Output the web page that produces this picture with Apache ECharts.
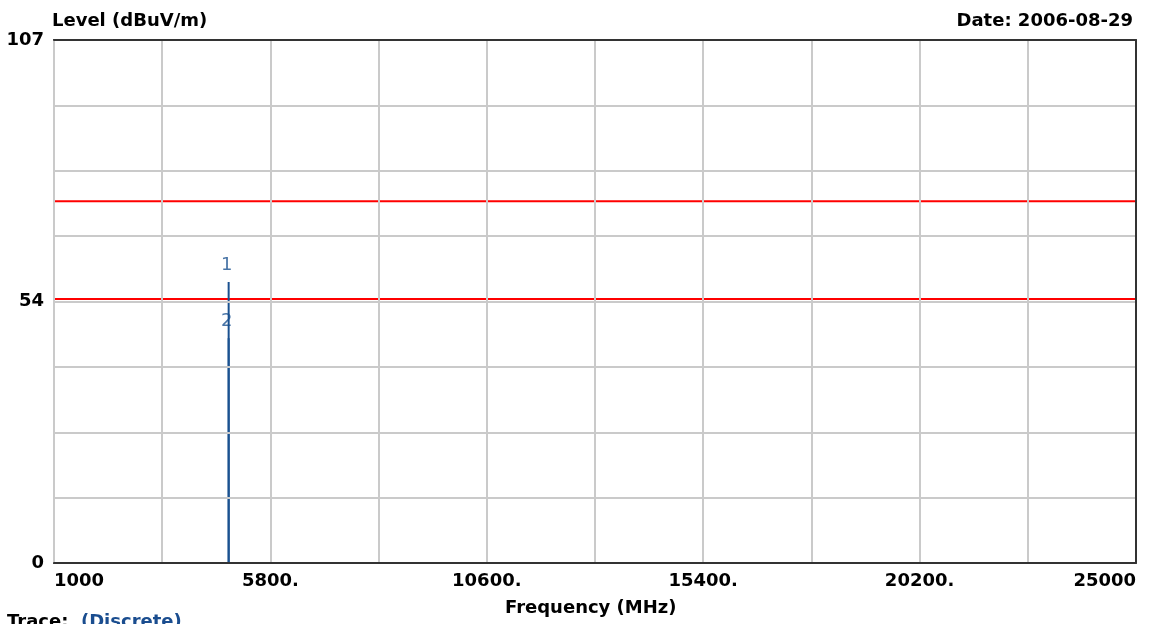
<!DOCTYPE html>
<html>
<head>
<meta charset="utf-8">
<script src="https://cdn.jsdelivr.net/npm/echarts@6/dist/echarts.min.js"></script>
<style>
  html, body { margin: 0; padding: 0; background: #fff; }
  #chart { width: 1159px; height: 624px; }
</style>
</head>
<body>
<div id="chart"></div>
<script>
// frequency axis (MHz) and level axis (dBuV/m)
const freqMin = 1000;
const freqMax = 25000;
const freqStep = 2400;
const levelMin = 0;
const levelMax = 107;
const levelStep = 13.375;
const levelTickLabels = { 0: '0', 53.5: '54', 107: '107' };

// limit lines (dBuV/m)
const limitLevels = [74, 54];

// discrete trace markers
const markerIds = ['1', '2'];
const markerFreqs = [4874, 4874];
const markerLevels = [57.5, 46];

const FONT = 'DejaVu Sans';
const mychart = echarts.init(document.getElementById('chart'));

const limitSeries = limitLevels.map(function (lv) {
  return {
    type: 'line',
    data: [[freqMin, lv], [freqMax, lv]],
    symbol: 'none',
    silent: true,
    lineStyle: { color: '#ff0000', width: 2 },
    z: 3
  };
});

const markerSeries = markerFreqs.map(function (f, i) {
  return {
    type: 'line',
    data: [[f, 0], [f, markerLevels[i]]],
    symbol: 'none',
    silent: true,
    lineStyle: { color: '#1a5190', width: 2 },
    z: 4
  };
});

const labelSeries = {
  type: 'scatter',
  data: markerFreqs.map(function (f, i) { return [f, markerLevels[i], markerIds[i]]; }),
  symbolSize: 0,
  silent: true,
  label: {
    show: true,
    position: 'top',
    distance: 8,
    offset: [-2, 0],
    formatter: function (p) { return p.data[2]; },
    color: '#1a5190',
    fontFamily: FONT,
    fontSize: 18
  },
  z: 5
};

const boldText = { fontFamily: FONT, fontWeight: 'bold', fontSize: 18, color: '#000' };

const option = {
  animation: false,
  backgroundColor: '#fff',
  title: [
    { text: 'Level (dBuV/m)', left: 52, top: 12, padding: 0, textStyle: boldText },
    { text: 'Date: 2006-08-29', right: 26, top: 12, padding: 0, textStyle: boldText },
    { text: 'Frequency (MHz)', left: 505, top: 599, padding: 0, textStyle: boldText },
    {
      text: '{a|Trace:}  {b|(Discrete)}', left: 7, top: 613, padding: 0,
      textStyle: {
        fontFamily: FONT, fontWeight: 'bold', fontSize: 18,
        rich: {
          a: { fontFamily: FONT, fontWeight: 'bold', fontSize: 18, color: '#000' },
          b: { fontFamily: FONT, fontWeight: 'bold', fontSize: 18, color: '#1a4d8f' }
        }
      }
    }
  ],
  grid: {
    left: 54, right: 23, top: 40, bottom: 61,
    show: false
  },
  xAxis: [
    {
      type: 'value',
      min: freqMin, max: freqMax, interval: freqStep,
      axisLine: { show: true, onZero: false, lineStyle: { color: '#333', width: 2 } },
      axisTick: { show: false },
      splitLine: { show: true, lineStyle: { color: '#cacaca', width: 2 } },
      axisLabel: {
        margin: 9,
        fontFamily: FONT, fontWeight: 'bold', fontSize: 18, color: '#000',
        alignMinLabel: 'left', alignMaxLabel: 'right',
        formatter: function (v) {
          if (v === freqMin || v === freqMax) return String(v);
          const k = Math.round((v - freqMin) / freqStep);
          return k % 2 === 0 ? v + '.' : '';
        }
      },
      z: 12
    },
    {
      type: 'value', position: 'top',
      min: freqMin, max: freqMax, interval: freqStep,
      axisLine: { show: true, onZero: false, lineStyle: { color: '#333', width: 2 } },
      axisTick: { show: false }, axisLabel: { show: false }, splitLine: { show: false },
      z: 20
    }
  ],
  yAxis: [
    {
      type: 'value',
      min: levelMin, max: levelMax, interval: levelStep,
      axisLine: { show: true, onZero: false, lineStyle: { color: '#333', width: 2 } },
      axisTick: { show: false },
      splitLine: { show: true, lineStyle: { color: '#cacaca', width: 2 } },
      axisLabel: {
        margin: 10,
        fontFamily: FONT, fontWeight: 'bold', fontSize: 18, color: '#000',
        formatter: function (v) {
          const key = Math.round(v * 1000) / 1000;
          return levelTickLabels[key] !== undefined ? levelTickLabels[key] : '';
        }
      },
      z: 11
    },
    {
      type: 'value', position: 'right',
      min: levelMin, max: levelMax, interval: levelStep,
      axisLine: { show: true, onZero: false, lineStyle: { color: '#333', width: 2 } },
      axisTick: { show: false }, axisLabel: { show: false }, splitLine: { show: false },
      z: 20
    }
  ],
  series: limitSeries.concat(markerSeries, [labelSeries])
};

mychart.setOption(option);
</script>
</body>
</html>
